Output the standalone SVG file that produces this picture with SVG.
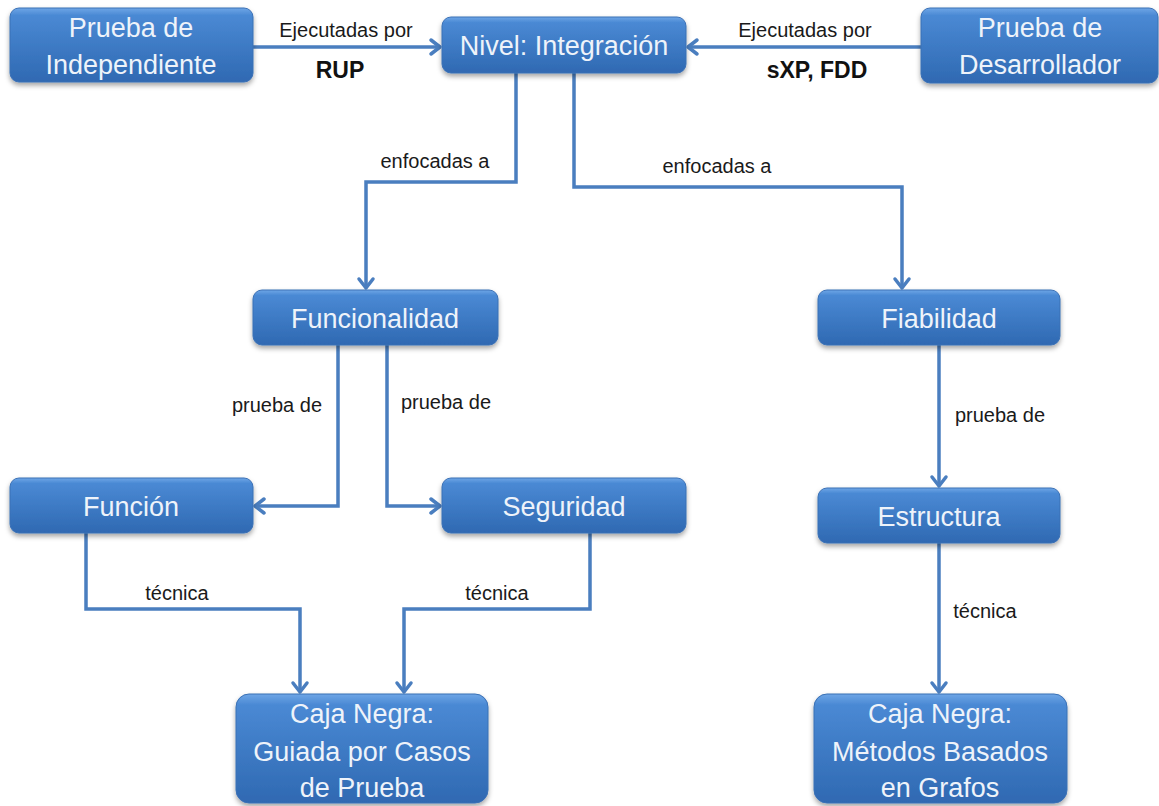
<svg xmlns="http://www.w3.org/2000/svg" width="1159" height="806" viewBox="0 0 1159 806">
<defs>
<linearGradient id="g" x1="0" y1="0" x2="0" y2="1">
<stop offset="0" stop-color="#6ea6e6"/>
<stop offset="0.1" stop-color="#4a89d4"/>
<stop offset="1" stop-color="#2f69b2"/>
</linearGradient>
<filter id="sh" x="-10%" y="-10%" width="120%" height="140%">
<feDropShadow dx="0" dy="3" stdDeviation="2.5" flood-color="#000" flood-opacity="0.35"/>
</filter>
<marker id="ar" markerUnits="userSpaceOnUse" markerWidth="24" markerHeight="24" viewBox="-12 -12 24 24" refX="0" refY="0" orient="auto">
<path d="M-9,-7 L0,0 L-9,7" fill="none" stroke="#4a7ebf" stroke-width="3.5" stroke-linecap="round" stroke-linejoin="round"/>
</marker>
<style>
.box{fill:url(#g);stroke:#3a70b5;stroke-width:1;filter:url(#sh)}
.nt{font-family:"Liberation Sans",Arial,sans-serif;font-size:27px;fill:#eef3fa;text-anchor:middle}
.lb{font-family:"Liberation Sans",Arial,sans-serif;font-size:20px;fill:#1a1a1a;text-anchor:middle}
.bl{font-family:"Liberation Sans",Arial,sans-serif;font-size:23px;font-weight:bold;fill:#111;text-anchor:middle}
.cn{fill:none;stroke:#4a7ebf;stroke-width:3.5;marker-end:url(#ar)}
</style>
</defs>
<rect width="1159" height="806" fill="#fff"/>
<g id="connectors">
<path class="cn" d="M253,47 H440"/>
<path class="cn" d="M921,47 H688"/>
<path class="cn" d="M516,73 V182 H366 V288"/>
<path class="cn" d="M574,73 V187 H902 V288"/>
<path class="cn" d="M338,345 V506 H255"/>
<path class="cn" d="M387,345 V506 H440"/>
<path class="cn" d="M939,345 V486"/>
<path class="cn" d="M86,533 V609 H300 V692"/>
<path class="cn" d="M590,533 V609 H404 V692"/>
<path class="cn" d="M939,543 V692"/>
<text class="lb" x="346" y="37">Ejecutadas por</text>
<text class="bl" x="340" y="78">RUP</text>
<text class="lb" x="805" y="37">Ejecutadas por</text>
<text class="bl" x="817" y="78">sXP, FDD</text>
<text class="lb" x="435" y="168">enfocadas a</text>
<text class="lb" x="717" y="173">enfocadas a</text>
<text class="lb" x="277" y="412">prueba de</text>
<text class="lb" x="446" y="409">prueba de</text>
<text class="lb" x="1000" y="422">prueba de</text>
<text class="lb" x="177" y="600">técnica</text>
<text class="lb" x="497" y="600">técnica</text>
<text class="lb" x="985" y="618">técnica</text>
</g>
<g id="n1"><rect class="box" x="10" y="8" width="243" height="74" rx="9"/><text class="nt" x="131" y="37">Prueba de</text><text class="nt" x="131" y="74">Independiente</text></g>
<g id="n2"><rect class="box" x="442" y="17" width="244" height="56" rx="9"/><text class="nt" x="564" y="55">Nivel: Integración</text></g>
<g id="n3"><rect class="box" x="921" y="8" width="237" height="75" rx="9"/><text class="nt" x="1040" y="37">Prueba de</text><text class="nt" x="1040" y="74">Desarrollador</text></g>
<g id="n4"><rect class="box" x="253" y="290" width="245" height="55" rx="9"/><text class="nt" x="375" y="328">Funcionalidad</text></g>
<g id="n5"><rect class="box" x="818" y="290" width="242" height="55" rx="9"/><text class="nt" x="939" y="328">Fiabilidad</text></g>
<g id="n6"><rect class="box" x="10" y="478" width="243" height="55" rx="9"/><text class="nt" x="131" y="516">Función</text></g>
<g id="n7"><rect class="box" x="442" y="478" width="244" height="55" rx="9"/><text class="nt" x="564" y="516">Seguridad</text></g>
<g id="n8"><rect class="box" x="818" y="488" width="242" height="55" rx="9"/><text class="nt" x="939" y="526">Estructura</text></g>
<g id="n9"><rect class="box" x="236" y="694" width="252" height="109" rx="13"/><text class="nt" x="362" y="723">Caja Negra:</text><text class="nt" x="362" y="761">Guiada por Casos</text><text class="nt" x="362" y="797">de Prueba</text></g>
<g id="n10"><rect class="box" x="814" y="694" width="253" height="109" rx="13"/><text class="nt" x="940" y="723">Caja Negra:</text><text class="nt" x="940" y="761">Métodos Basados</text><text class="nt" x="940" y="797">en Grafos</text></g>
</svg>
